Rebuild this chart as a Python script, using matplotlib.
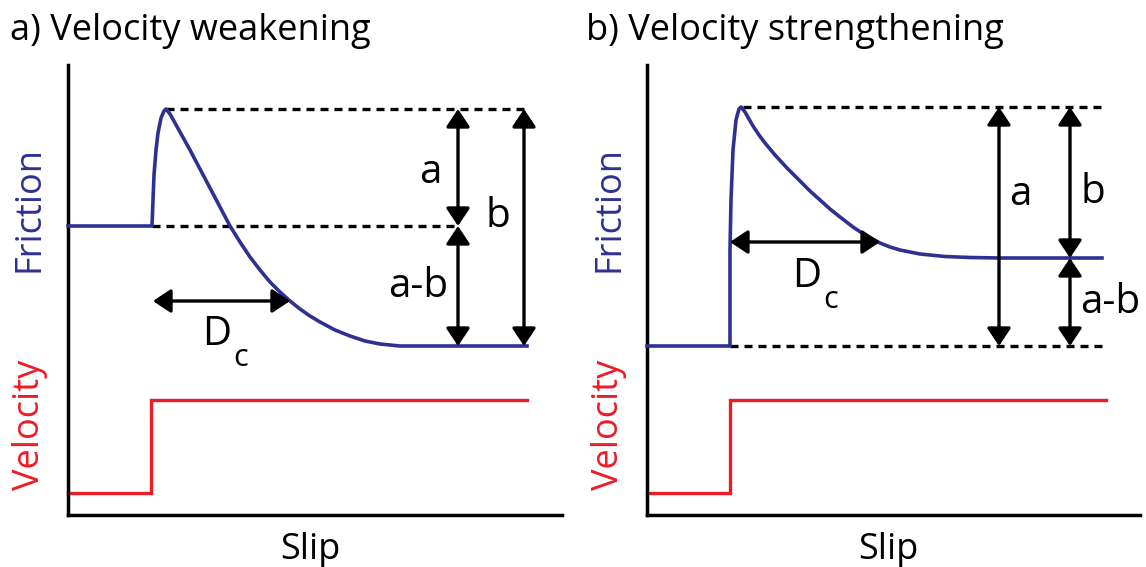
import matplotlib.pyplot as plt

plt.rcParams['font.family'] = ['Open Sans', 'DejaVu Sans']

BLUE = '#2E3192'
RED = '#ED1C24'

# slip units on x, arbitrary friction / velocity units on y
# velocity step (same for both panels)
vel_x = [0.0, 8.3, 8.3, 45.9]
vel_y = [2.2, 2.2, 11.5, 11.5]

# a) velocity weakening friction response
weak_x = [0.0, 8.4, 8.4, 8.5, 8.6, 8.8, 9.0, 9.3, 9.6, 9.8,
          10.2, 11.2, 12.2, 13.2, 14.2, 15.2, 16.2, 17.2, 18.2, 19.2,
          20.2, 21.2, 22.2, 23.2, 24.2, 25.2, 26.7, 28.2, 29.7, 31.2,
          33.2, 45.9]
weak_y = [28.9, 28.9, 28.9, 31.5, 34.0, 36.5, 38.2, 39.7, 40.4, 40.6,
          40.1, 38.3, 36.5, 34.6, 32.7, 30.8, 28.9, 27.3, 25.8, 24.5,
          23.3, 22.3, 21.4, 20.6, 19.9, 19.3, 18.5, 17.9, 17.4, 17.1,
          16.9, 16.9]
weak_peak, weak_base, weak_ss = 40.6, 28.9, 16.9

# b) velocity strengthening friction response
strong_x = [0.0, 8.3, 8.3, 8.4, 8.6, 8.9, 9.2, 9.4,
            9.8, 10.2, 10.6, 11.2, 11.8, 12.8, 14.0, 15.3, 16.3, 17.3,
            18.3, 19.3, 20.6, 21.8, 23.3, 24.3, 25.3, 27.3, 29.8, 32.3,
            35.3, 45.5]
strong_y = [16.9, 16.9, 26.5, 31.5, 36.5, 39.5, 40.6, 40.8,
            40.3, 39.6, 38.9, 38.0, 37.2, 36.0, 34.7, 33.4, 32.4, 31.5,
            30.6, 29.8, 28.8, 28.0, 27.2, 26.8, 26.5, 26.1, 25.85, 25.75,
            25.7, 25.7]
strong_peak, strong_base, strong_ss = 40.8, 16.9, 25.7

fig = plt.figure(figsize=(11.46, 5.67), dpi=100)
ax1 = fig.add_axes([68 / 1146, 52 / 567, 494 / 1146, 450 / 567])
ax2 = fig.add_axes([647 / 1146, 52 / 567, 493 / 1146, 450 / 567])

FS = 26


def setup(ax, width):
    ax.set_xlim(0, width)
    ax.set_ylim(0, 45)
    ax.set_xticks([])
    ax.set_yticks([])
    for s in ['top', 'right']:
        ax.spines[s].set_visible(False)
    for s in ['left', 'bottom']:
        ax.spines[s].set_linewidth(2.5)
        ax.spines[s].set_capstyle('projecting')
    ax.text(0.49, -0.077, 'Slip', fontsize=FS, ha='center', va='center',
            transform=ax.transAxes)
    ax.text(-0.077, 0.68, 'Friction', color=BLUE, fontsize=FS, rotation=90,
            ha='center', va='center', transform=ax.transAxes)
    ax.text(-0.077, 0.2, 'Velocity', color=RED, fontsize=FS, rotation=90,
            ha='center', va='center', transform=ax.transAxes)


def dashed(ax, x0, x1, y):
    ax.plot([x0, x1], [y, y], color='black', lw=2.4, ls=(0, (2.4, 1.8)),
            zorder=1)


def arrow(ax, x0, y0, x1, y1):
    ax.annotate('', xy=(x1, y1), xytext=(x0, y0),
                arrowprops=dict(arrowstyle='<|-|>,head_length=0.3,head_width=0.2',
                                color='black', lw=2.4,
                                mutation_scale=36, shrinkA=0, shrinkB=0))


def dc_label(ax, x, y):
    # D with a dropped subscript c
    ax.text(x, y, 'D', fontsize=29, ha='center', va='center')
    ax.text(x + 2.4, y - 2.3, 'c', fontsize=22, ha='center', va='center')


setup(ax1, 49.4)
setup(ax2, 49.3)

fig.text(10 / 1146, 1 - 31 / 567, 'a) Velocity weakening', fontsize=FS,
         ha='left', va='center')
fig.text(586 / 1146, 1 - 31 / 567, 'b) Velocity strengthening', fontsize=FS,
         ha='left', va='center')

for ax in (ax1, ax2):
    ax.plot(vel_x, vel_y, color=RED, lw=2.4, solid_joinstyle='miter',
            clip_on=False)

# panel a
ax1.plot(weak_x, weak_y, color=BLUE, lw=2.6, zorder=3, clip_on=False)
dashed(ax1, 9.8, 46.2, weak_peak)
dashed(ax1, 8.4, 39.0, weak_base)
arrow(ax1, 39.0, weak_base, 39.0, weak_peak)
arrow(ax1, 39.0, weak_ss, 39.0, weak_base)
arrow(ax1, 45.6, weak_ss, 45.6, weak_peak)
arrow(ax1, 8.5, 21.4, 22.2, 21.4)
ax1.text(36.2, 34.2, 'a', fontsize=29, ha='center', va='center')
ax1.text(43.0, 29.8, 'b', fontsize=29, ha='center', va='center')
ax1.text(35.0, 22.8, 'a-b', fontsize=29, ha='center', va='center')
dc_label(ax1, 14.9, 18.0)

# panel b
ax2.plot(strong_x, strong_y, color=BLUE, lw=2.6, zorder=3, clip_on=False)
dashed(ax2, 9.6, 45.5, strong_peak)
dashed(ax2, 8.3, 45.5, strong_base)
arrow(ax2, 35.2, strong_base, 35.2, strong_peak)
arrow(ax2, 42.3, strong_ss, 42.3, strong_peak)
arrow(ax2, 42.3, strong_base, 42.3, strong_ss)
arrow(ax2, 8.3, 27.3, 23.3, 27.3)
ax2.text(37.3, 32.0, 'a', fontsize=29, ha='center', va='center')
ax2.text(44.6, 32.2, 'b', fontsize=29, ha='center', va='center')
ax2.text(46.3, 21.2, 'a-b', fontsize=29, ha='center', va='center')
dc_label(ax2, 16.0, 23.8)

fig.savefig('out.png', dpi=100, facecolor='white')
